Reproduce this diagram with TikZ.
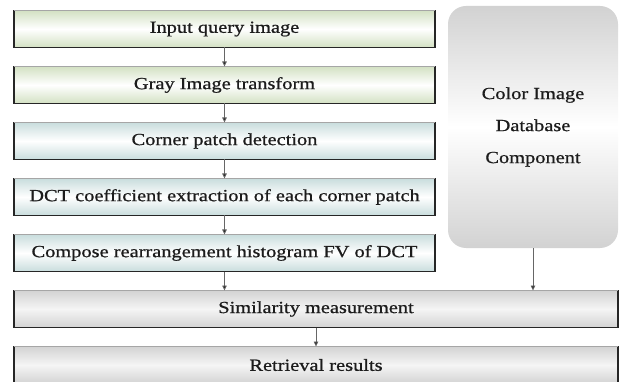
\documentclass[tikz,border=0pt]{standalone}
\usepackage{fontspec}
\setmainfont{Liberation Serif}[FakeStretch=1.2, FakeBold=0.8]
\usetikzlibrary{arrows.meta}

\definecolor{inkcol}{HTML}{1C1C1C}
\definecolor{edgecol}{HTML}{262626}
\definecolor{greentone}{HTML}{D3E1C3}
\definecolor{bluetone}{HTML}{C9DDDD}
\definecolor{graytone}{HTML}{D3D3D3}
\definecolor{dbtone}{HTML}{D2D2D2}

\tikzset{
  stepbox/.style={rectangle, draw=edgecol, line width=1.6pt, outer sep=0pt,
    minimum height=37pt, text=inkcol, font=\fontsize{17}{20}\selectfont},
  greenfill/.style={top color=greentone, bottom color=greentone, middle color=white},
  bluefill/.style={top color=bluetone, bottom color=bluetone, middle color=white},
  grayfill/.style={top color=graytone, bottom color=graytone, middle color=white!96!black},
  arr/.style={draw=black!60, line width=0.8pt,
    -{Triangle[length=5pt,width=4.5pt,fill=black!85]}},
}

\begin{document}
\begin{tikzpicture}[x=1pt,y=-1pt]
\useasboundingbox (0,0) rectangle (621,382);

% database component
\node[rectangle, rounded corners=18pt, minimum width=170pt, minimum height=242pt,
      top color=dbtone, bottom color=dbtone, middle color=white, outer sep=0pt,
      text=inkcol, align=center, font=\fontsize{17}{32}\selectfont]
  (db) at (533,127) {Color Image\\Database\\Component};

% processing chain
\node[stepbox, greenfill, minimum width=421pt] (input)  at (224.5,29)  {Input query image};
\node[stepbox, greenfill, minimum width=421pt] (gray)   at (224.5,85)  {Gray Image transform};
\node[stepbox, bluefill,  minimum width=421pt] (corner) at (224.5,141) {Corner patch detection};
\node[stepbox, bluefill,  minimum width=421pt] (dct)    at (224.5,197) {DCT coefficient extraction of each corner patch};
\node[stepbox, bluefill,  minimum width=421pt] (hist)   at (224.5,253) {Compose rearrangement histogram FV of DCT};
\node[stepbox, grayfill,  minimum width=604pt] (sim)    at (316,309)   {Similarity measurement};
\node[stepbox, grayfill,  minimum width=604pt] (ret)    at (316,365)   {Retrieval results};

% lighter top edges
\foreach \n in {input,gray,corner,dct,hist,sim,ret}
  \draw[black!35, line width=1.6pt] (\n.north west) -- (\n.north east);

% connectors
\draw[arr] (input.south) -- (gray.north);
\draw[arr] (gray.south) -- (corner.north);
\draw[arr] (corner.south) -- (dct.north);
\draw[arr] (dct.south) -- (hist.north);
\draw[arr] (hist.south) -- (hist.south |- sim.north);
\draw[arr] (db.south) -- (db.south |- sim.north);
\draw[arr] (sim.south) -- (ret.north);
\end{tikzpicture}
\end{document}
